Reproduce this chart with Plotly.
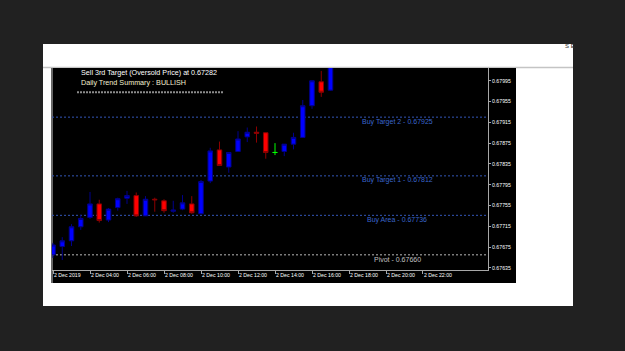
import plotly.graph_objects as go

# ---------------- data ----------------
times = [
    "2019-12-02 02:00", "2019-12-02 02:30", "2019-12-02 03:00", "2019-12-02 03:30",
    "2019-12-02 04:00", "2019-12-02 04:30", "2019-12-02 05:00", "2019-12-02 05:30",
    "2019-12-02 06:00", "2019-12-02 06:30", "2019-12-02 07:00", "2019-12-02 07:30",
    "2019-12-02 08:00", "2019-12-02 08:30", "2019-12-02 09:00", "2019-12-02 09:30",
    "2019-12-02 10:00", "2019-12-02 10:30", "2019-12-02 11:00", "2019-12-02 11:30",
    "2019-12-02 12:00", "2019-12-02 12:30", "2019-12-02 13:00", "2019-12-02 13:30",
    "2019-12-02 14:00", "2019-12-02 14:30", "2019-12-02 15:00", "2019-12-02 15:30",
    "2019-12-02 16:00", "2019-12-02 16:30", "2019-12-02 17:00",
]
opens = [0.67660, 0.67676, 0.67687, 0.67714, 0.67732, 0.67758, 0.67727, 0.67751,
         0.67769, 0.67774, 0.67735, 0.67767, 0.67764, 0.67744, 0.67748, 0.67758,
         0.67739, 0.67802, 0.67862, 0.67829, 0.67859, 0.67887, 0.67896, 0.67895,
         0.67857, 0.67859, 0.67873, 0.67886, 0.67947, 0.67993, 0.67977]
highs = [0.67683, 0.67694, 0.67719, 0.67737, 0.67781, 0.67766, 0.67750, 0.67770,
         0.67783, 0.67780, 0.67773, 0.67770, 0.67767, 0.67764, 0.67775, 0.67773,
         0.67804, 0.67866, 0.67878, 0.67857, 0.67898, 0.67905, 0.67907, 0.67895,
         0.67875, 0.67873, 0.67895, 0.67958, 0.67995, 0.68014, 0.68030]
lows = [0.67654, 0.67650, 0.67677, 0.67708, 0.67729, 0.67722, 0.67723, 0.67745,
        0.67758, 0.67733, 0.67735, 0.67743, 0.67741, 0.67741, 0.67746, 0.67739,
        0.67738, 0.67798, 0.67831, 0.67818, 0.67858, 0.67877, 0.67876, 0.67845,
        0.67852, 0.67850, 0.67863, 0.67885, 0.67941, 0.67964, 0.67976]
closes = [0.67679, 0.67687, 0.67714, 0.67730, 0.67758, 0.67726, 0.67748, 0.67768,
          0.67774, 0.67735, 0.67767, 0.67766, 0.67745, 0.67746, 0.67760, 0.67741,
          0.67801, 0.67860, 0.67832, 0.67857, 0.67883, 0.67896, 0.67894, 0.67857,
          0.67857, 0.67873, 0.67886, 0.67947, 0.67995, 0.67973, 0.68025]

level_names = ["Buy Target 2", "Buy Target 1", "Buy Area", "Pivot"]
level_values = [0.67925, 0.67812, 0.67736, 0.67660]

x_tick_vals = ["2019-12-02 02:00", "2019-12-02 04:00", "2019-12-02 06:00",
               "2019-12-02 08:00", "2019-12-02 10:00", "2019-12-02 12:00",
               "2019-12-02 14:00", "2019-12-02 16:00", "2019-12-02 18:00",
               "2019-12-02 20:00", "2019-12-02 22:00"]
x_tick_text = ["2 Dec 2019", "2 Dec 04:00", "2 Dec 06:00", "2 Dec 08:00",
               "2 Dec 10:00", "2 Dec 12:00", "2 Dec 14:00", "2 Dec 16:00",
               "2 Dec 18:00", "2 Dec 20:00", "2 Dec 22:00"]
y_tick_vals = [0.67635, 0.67675, 0.67715, 0.67755, 0.67795,
               0.67835, 0.67875, 0.67915, 0.67955, 0.67995]

info_line_1 = "Sell 3rd Target (Oversold Price) at 0.67282"
info_line_2 = "Daily Trend Summary : BULLISH"

# ---------------- layout helpers ----------------
W, H = 625, 351
PL, PR, PT, PB = 52, 488, 68, 270  # plot area in pixels


def px(x):
    return (x - PL) / (PR - PL)


def py(y):
    return (PB - y) / (PB - PT)


FONT = "Liberation Sans"

reg = [i for i in range(len(times)) if opens[i] != closes[i]]
doji = [i for i in range(len(times)) if opens[i] == closes[i]]

fig = go.Figure()
fig.add_trace(go.Candlestick(
    x=[times[i] for i in reg],
    open=[opens[i] for i in reg],
    high=[highs[i] for i in reg],
    low=[lows[i] for i in reg],
    close=[closes[i] for i in reg],
    increasing=dict(fillcolor="#0000ff", line=dict(color="#00008b", width=1)),
    decreasing=dict(fillcolor="#ff0000", line=dict(color="#8b0000", width=1)),
    showlegend=False, hoverinfo="skip",
))
fig.add_trace(go.Candlestick(
    x=[times[i] for i in doji],
    open=[opens[i] for i in doji],
    high=[highs[i] for i in doji],
    low=[lows[i] for i in doji],
    close=[closes[i] for i in doji],
    increasing=dict(fillcolor="#00ff00", line=dict(color="#00ff00", width=1)),
    decreasing=dict(fillcolor="#00ff00", line=dict(color="#00ff00", width=1)),
    showlegend=False, hoverinfo="skip",
))

shapes = [
    # white window panel
    dict(type="rect", xref="paper", yref="paper", x0=px(43), x1=px(573),
         y0=py(306), y1=py(44), fillcolor="#ffffff", line=dict(width=0), layer="below"),
    # grey line under title strip
    dict(type="line", xref="paper", yref="paper", x0=px(43), x1=px(573),
         y0=py(67.5), y1=py(67.5), line=dict(color="#c4c4c4", width=1.5), layer="below"),
    # black chart area
    dict(type="rect", xref="paper", yref="paper", x0=px(51), x1=px(516),
         y0=py(283), y1=py(68), fillcolor="#000000", line=dict(width=0), layer="below"),
    # grey left border of chart
    dict(type="line", xref="paper", yref="paper", x0=px(52), x1=px(52),
         y0=py(283), y1=py(68), line=dict(color="#8a8a8a", width=1.5), layer="below"),
    # dotted separator under info text
    dict(type="line", xref="paper", yref="paper", x0=px(77), x1=px(223),
         y0=py(92.3), y1=py(92.3), line=dict(color="#8c8c8c", width=2, dash="2px,1px"),
         layer="below"),
]

annotations = [
    dict(text=info_line_1, xref="paper", yref="paper", x=px(79), y=py(72.7),
         xanchor="left", yanchor="middle", showarrow=False,
         font=dict(family=FONT, size=7.2, color="#ffffff")),
    dict(text=info_line_2, xref="paper", yref="paper", x=px(79), y=py(82.7),
         xanchor="left", yanchor="middle", showarrow=False,
         font=dict(family=FONT, size=7.2, color="#f4f0d0")),
    dict(text="S E", xref="paper", yref="paper", x=px(563), y=py(46.5),
         xanchor="left", yanchor="middle", showarrow=False,
         font=dict(family=FONT, size=6, color="#303030")),
]

for name, val in zip(level_names, level_values):
    is_pivot = name == "Pivot"
    lcol = "#b8b8b8" if is_pivot else "#3356b8"
    tcol = "#c0c0c0" if is_pivot else "#3a66cc"
    shapes.append(dict(type="line", xref="paper", yref="y", x0=0, x1=1, y0=val, y1=val,
                       line=dict(color=lcol, width=1, dash="2px,2px"), layer="below"))
    annotations.append(dict(text=f"{name} - {val:.5f}", xref="paper", yref="y",
                            x=px(397), y=val, yshift=-4.5, xanchor="center",
                            yanchor="middle", showarrow=False,
                            font=dict(family=FONT, size=7, color=tcol)))

fig.update_layout(
    width=W, height=H,
    margin=dict(l=PL, r=W - PR, t=PT, b=H - PB, pad=0),
    paper_bgcolor="#212121",
    plot_bgcolor="#000000",
    showlegend=False,
    shapes=shapes,
    annotations=annotations,
    xaxis=dict(
        type="date",
        range=["2019-12-02 01:56:45", "2019-12-03 01:30:50"],
        rangeslider=dict(visible=False),
        showgrid=False, zeroline=False,
        showline=True, linecolor="#a8a8a8", linewidth=1,
        ticks="outside", ticklen=3, tickcolor="#a8a8a8",
        tickvals=x_tick_vals, ticktext=x_tick_text,
        ticklabelposition="outside right",
        tickangle=0,
        tickfont=dict(family=FONT, size=5.2, color="#ffffff"),
        fixedrange=True,
    ),
    yaxis=dict(
        side="right",
        range=[0.676308, 0.680196],
        showgrid=False, zeroline=False,
        showline=True, linecolor="#a8a8a8", linewidth=1,
        ticks="outside", ticklen=2, tickcolor="#a8a8a8",
        tickvals=y_tick_vals,
        ticktext=[f"{v:.5f}" for v in y_tick_vals],
        tickfont=dict(family=FONT, size=5.2, color="#ffffff"),
        fixedrange=True,
    ),
)

fig.write_html("out.html")
